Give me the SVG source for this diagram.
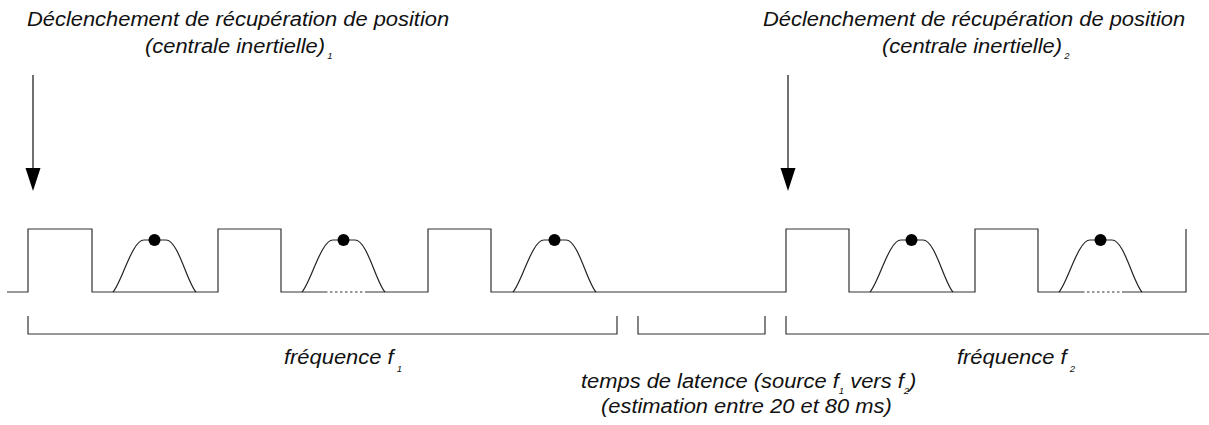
<svg xmlns="http://www.w3.org/2000/svg" width="1209" height="425" viewBox="0 0 1209 425">
<style>
.t{font-family:"Liberation Sans",Arial,Helvetica,sans-serif;font-style:italic;font-size:19.5px;fill:#111}
.sub{font-size:8.5px}
.ln{fill:none;stroke:#333;stroke-width:1.2}
.dot{fill:#000}
.dash{fill:none;stroke:#333;stroke-width:1.2;stroke-dasharray:2.5 2.5}
.arr{stroke:#111;stroke-width:1.2}
</style>
<defs>
<path id="bump" d="M0,0 C9,-10 19,-52 31,-52 H53 C65,-52 74,-10 83,0" fill="none" stroke="#222" stroke-width="1.2"/>
</defs>
<rect width="1209" height="425" fill="#fff"/>

<g id="label-trigger-1">
<text class="t" transform="translate(27,26) scale(1.123,1)">Déclenchement de récupération de position</text>
<text class="t" transform="translate(145,53) scale(1.123,1)">(centrale inertielle)<tspan class="sub" dx="2" dy="6">1</tspan></text>
</g>
<g id="label-trigger-2">
<text class="t" transform="translate(763,26) scale(1.123,1)">Déclenchement de récupération de position</text>
<text class="t" transform="translate(882,53) scale(1.123,1)">(centrale inertielle)<tspan class="sub" dx="2" dy="6">2</tspan></text>
</g>

<g id="connectors">
<line class="arr" x1="33" y1="75" x2="33" y2="168"/>
<path d="M25.5,168 L40.5,168 L33,191 Z" fill="#000"/>
<line class="arr" x1="788" y1="75" x2="788" y2="168"/>
<path d="M780.5,168 L795.5,168 L788,191 Z" fill="#000"/>
</g>

<g id="signal">
<path class="ln" d="M7,292 H28 V229 H92 V292 H218 V229 H281 V292 H325"/>
<path class="dash" d="M325,292 H365"/>
<path class="ln" d="M365,292 H428 V229 H491 V292 H786 V229 H849 V292 H975 V229 H1038 V292 H1082"/>
<path class="dash" d="M1082,292 H1122"/>
<path class="ln" d="M1122,292 H1186 V229"/>
</g>

<g id="pulses">
<use href="#bump" x="113" y="292"/>
<use href="#bump" x="302" y="292"/>
<use href="#bump" x="513" y="292"/>
<use href="#bump" x="870" y="292"/>
<use href="#bump" x="1059" y="292"/>
<circle class="dot" cx="154.5" cy="240" r="6"/>
<circle class="dot" cx="343.5" cy="240" r="6"/>
<circle class="dot" cx="554.5" cy="240" r="6"/>
<circle class="dot" cx="911.5" cy="240" r="6"/>
<circle class="dot" cx="1100.5" cy="240" r="6"/>
</g>

<g id="brackets">
<path class="ln" d="M28,316 V334 H617 V316"/>
<path class="ln" d="M638,316 V334 H765 V316"/>
<path class="ln" d="M786,316 V334 H1209"/>
</g>

<g id="label-f1">
<text class="t" transform="translate(284,364) scale(1.123,1)">fréquence f<tspan class="sub" dx="3" dy="8">1</tspan></text>
</g>
<g id="label-f2">
<text class="t" transform="translate(957,364) scale(1.123,1)">fréquence f<tspan class="sub" dx="3" dy="8">2</tspan></text>
</g>
<g id="label-latency">
<text class="t" transform="translate(581,388) scale(1.123,1)">temps de latence (source f<tspan class="sub" dy="6">1</tspan><tspan dy="-6"> vers f</tspan><tspan class="sub" dy="6">2</tspan><tspan dy="-6">)</tspan></text>
<text class="t" transform="translate(601,413) scale(1.123,1)">(estimation entre 20 et 80 ms)</text>
</g>
</svg>
